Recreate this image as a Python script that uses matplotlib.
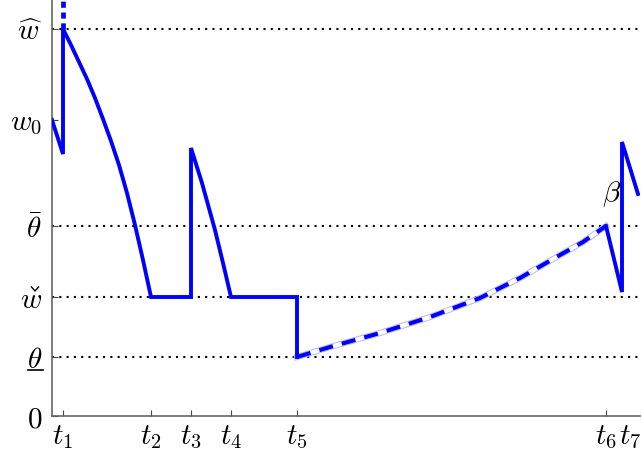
import numpy as np
import matplotlib
matplotlib.use("Agg")
import matplotlib.pyplot as plt
from matplotlib.lines import Line2D

plt.rcParams['mathtext.fontset'] = 'cm'
plt.rcParams['font.family'] = 'DejaVu Serif'

# levels on the y axis
theta_lo = 59
w_check = 119
theta_bar = 190
w0 = 296
w_hat = 387
y_top = 416

# times on the x axis
t = [11, 99, 139, 179, 245, 554, 578]
t_labels = ['$t_1$', '$t_2$', '$t_3$', '$t_4$', '$t_5$', '$t_6$', '$t_7$']

# first part of the path, solid (start -> t5)
x1 = [0, 11, 11, 19, 27, 35, 43, 51, 59, 67, 75, 83, 91, 99,
      139, 139, 150, 163, 171, 179, 245, 245]
y1 = [296, 262, 387, 371, 354, 337, 318, 297, 275, 251, 223, 191, 156, 119,
      119, 268, 233, 186, 153, 119, 119, 59]

# dashed rise from theta_lo to theta_bar (t5 -> t6)
x2 = [245, 278, 328, 378, 428, 468, 508, 531, 554]
y2 = [59, 69, 83, 99, 118, 138, 161, 174, 190]

# last part, solid (t6 -> t7)
x3 = [554, 570, 570, 586]
y3 = [190, 124, 274, 222]

fig = plt.figure(figsize=(6.42, 4.59), dpi=100)
ax = fig.add_axes([52/642, 43/459, 588/642, 416/459])

for lev in [theta_lo, w_check, theta_bar, w_hat]:
    ax.plot([0, 588], [lev, lev], color='black', lw=1.5, linestyle=(0, (1, 2.5)), zorder=1)

ax.plot([11, 11], [w_hat, y_top], color='blue', lw=3.4, linestyle=(0, (1.3, 1.0)),
        solid_capstyle='butt', dash_capstyle='butt', zorder=3, clip_on=False)

ax.plot(x1, y1, color='blue', lw=2.8, solid_joinstyle='miter', zorder=3)
ax.plot(x2, y2, color='#b8b8ff', lw=4.4, zorder=2)
ax.plot(x2, y2, color='white', lw=3.0, zorder=2)
ax.plot(x2, y2, color='blue', lw=3.0, linestyle=(0, (3.4, 2.2)), zorder=3)
ax.plot(x3, y3, color='blue', lw=2.8, solid_joinstyle='miter', zorder=3)

ax.text(560, 222, r'$\beta$', fontsize=21, ha='center', va='center')

ax.set_xlim(0, 588)
ax.set_ylim(0, y_top)

ax.set_xticks(t)
ax.set_xticklabels(t_labels, fontsize=21)
ax.set_yticks([0, theta_lo, w_check, theta_bar, w0, w_hat])
ax.set_yticklabels(['$0$', r'$\theta$', '$w$', r'$\bar{\theta}$', '$w_0$', r'$\widehat{w}$'],
                   fontsize=21)
ax.tick_params(direction='in', length=4, color='#444444')
ax.tick_params(axis='x', pad=5)
ax.tick_params(axis='y', pad=7)
ax.xaxis.get_major_ticks()[-1].tick1line.set_visible(False)

for s in ['top', 'right']:
    ax.spines[s].set_visible(False)
for s in ['left', 'bottom']:
    ax.spines[s].set_color('#666666')
    ax.spines[s].set_linewidth(1.2)

# underline for the lower theta and the check over w
fig.add_artist(Line2D([28/642, 43/642], [1 - 370/459, 1 - 370/459], color='black', lw=1.2))
fig.add_artist(Line2D([31.5/642, 35/642, 38.5/642], [1 - 287/459, 1 - 291/459, 1 - 287/459],
                      color='black', lw=1.0))

fig.savefig('out.png', dpi=100)
